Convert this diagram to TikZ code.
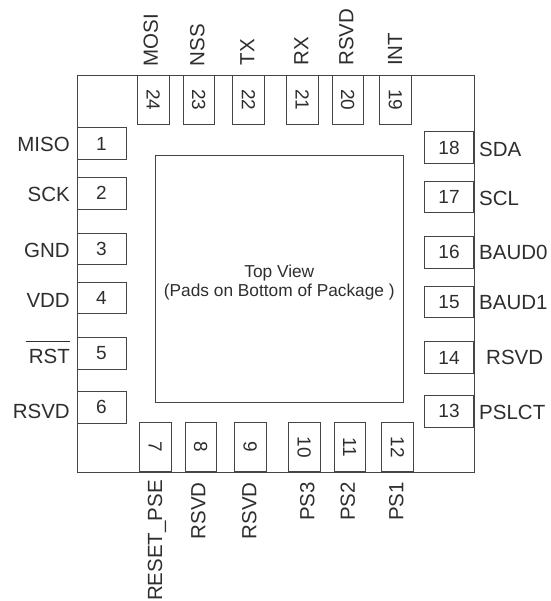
\documentclass[tikz,border=0pt]{standalone}
\usepackage{fontspec}
\setmainfont{Liberation Sans}
\definecolor{lineclr}{gray}{0.27}
\definecolor{textclr}{gray}{0.18}
\tikzset{
	pin/.style = {draw = lineclr, fill = white, line width = 0.9pt, inner sep = 0pt, text = textclr, font = \fontsize{19}{19}\selectfont, minimum width = 49pt, minimum height = 31.5pt},
	vpin/.style = {pin, rotate = -90},
	pinlabel/.style = {inner sep = 0pt, text = textclr, font = \fontsize{20.5}{20.5}\selectfont, text height = 14.7pt, text depth = 0pt},
	toplabel/.style = {pinlabel, rotate = 90, anchor = west},
	botlabel/.style = {pinlabel, rotate = 90, anchor = east}
}
\begin{document}
\begin{tikzpicture}[x=1pt,y=-1pt]
	\useasboundingbox (0,0) rectangle (550,601);
	% package and die
	\node (body) at (275.5, 273.75)	[draw = lineclr, line width = 0.9pt, minimum width = 397pt, minimum height = 396.5pt]	{};
	\node (die) at (279.3, 278.5)	[draw = lineclr, line width = 0.9pt, minimum width = 247.5pt, minimum height = 247pt]	{};
	\node (dietext) at (279.3, 282.5)	[align = center, text = textclr, font = \fontsize{17.3}{19}\selectfont]	{Top View\\(Pads on Bottom of Package )};
	% left pins
	\node (P1) at (101.5, 143.5)	[pin]	{1};
	\node (P2) at (101.5, 193.25)	[pin]	{2};
	\node (P3) at (101.5, 248.75)	[pin]	{3};
	\node (P4) at (101.5, 298)	[pin]	{4};
	\node (P5) at (101.5, 353.5)	[pin]	{5};
	\node (P6) at (101.5, 407.25)	[pin]	{6};
	% bottom pins
	\node (P7) at (155.25, 447)	[vpin]	{7};
	\node (P8) at (200.75, 447)	[vpin]	{8};
	\node (P9) at (250.25, 447)	[vpin]	{9};
	\node (P10) at (304.25, 447)	[vpin]	{10};
	\node (P11) at (349.75, 447)	[vpin]	{11};
	\node (P12) at (397.5, 447)	[vpin]	{12};
	% right pins
	\node (P13) at (449, 411.25)	[pin]	{13};
	\node (P14) at (449, 357.5)	[pin]	{14};
	\node (P15) at (449, 301.75)	[pin]	{15};
	\node (P16) at (449, 252.25)	[pin]	{16};
	\node (P17) at (449, 197)	[pin]	{17};
	\node (P18) at (449, 147.5)	[pin]	{18};
	% top pins
	\node (P19) at (395.5, 100)	[vpin]	{19};
	\node (P20) at (347.75, 100)	[vpin]	{20};
	\node (P21) at (302.25, 100)	[vpin]	{21};
	\node (P22) at (248.5, 100)	[vpin]	{22};
	\node (P23) at (198.75, 100)	[vpin]	{23};
	\node (P24) at (153.25, 100)	[vpin]	{24};
	% left labels
	\node (MISO) at (70, 144)	[pinlabel, anchor = east]	{MISO};
	\node (SCK) at (70, 194)	[pinlabel, anchor = east]	{SCK};
	\node (GND) at (70, 250)	[pinlabel, anchor = east]	{GND};
	\node (VDD) at (70, 300)	[pinlabel, anchor = east]	{VDD};
	\node (RST) at (70, 356)	[pinlabel, anchor = east]	{RST};
	\node (RSVDa) at (70, 411)	[pinlabel, anchor = east]	{RSVD};
	\draw[line width = 1.3pt, textclr] ([xshift=-3pt,yshift=6.7pt]RST.north west) -- ([yshift=6.7pt]RST.north east);
	% right labels
	\node (SDA) at (479, 149)	[pinlabel, anchor = west]	{SDA};
	\node (SCL) at (479, 198)	[pinlabel, anchor = west]	{SCL};
	\node (BAUD0) at (479, 252)	[pinlabel, anchor = west]	{BAUD0};
	\node (BAUD1) at (479, 302)	[pinlabel, anchor = west]	{BAUD1};
	\node (RSVDb) at (486, 357.5)	[pinlabel, anchor = west]	{RSVD};
	\node (PSLCT) at (479, 412)	[pinlabel, anchor = west]	{PSLCT};
	% top labels
	\node (MOSI) at (150.5, 66.5)	[toplabel]	{MOSI};
	\node (NSS) at (197, 66.5)	[toplabel]	{NSS};
	\node (TX) at (247, 65.5)	[toplabel]	{TX};
	\node (RX) at (301, 65.5)	[toplabel]	{RX};
	\node (RSVDc) at (346, 66)	[toplabel]	{RSVD};
	\node (INT) at (394.7, 66)	[toplabel]	{INT};
	% bottom labels
	\node (RESETPSE) at (154.7, 480)	[botlabel]	{RESET\_PSE};
	\node (RSVDd) at (198, 482)	[botlabel]	{RSVD};
	\node (RSVDe) at (249, 482)	[botlabel]	{RSVD};
	\node (PSc) at (307, 482)	[botlabel]	{PS3};
	\node (PSb) at (347.5, 482)	[botlabel]	{PS2};
	\node (PSa) at (396, 482)	[botlabel]	{PS1};
\end{tikzpicture}
\end{document}
